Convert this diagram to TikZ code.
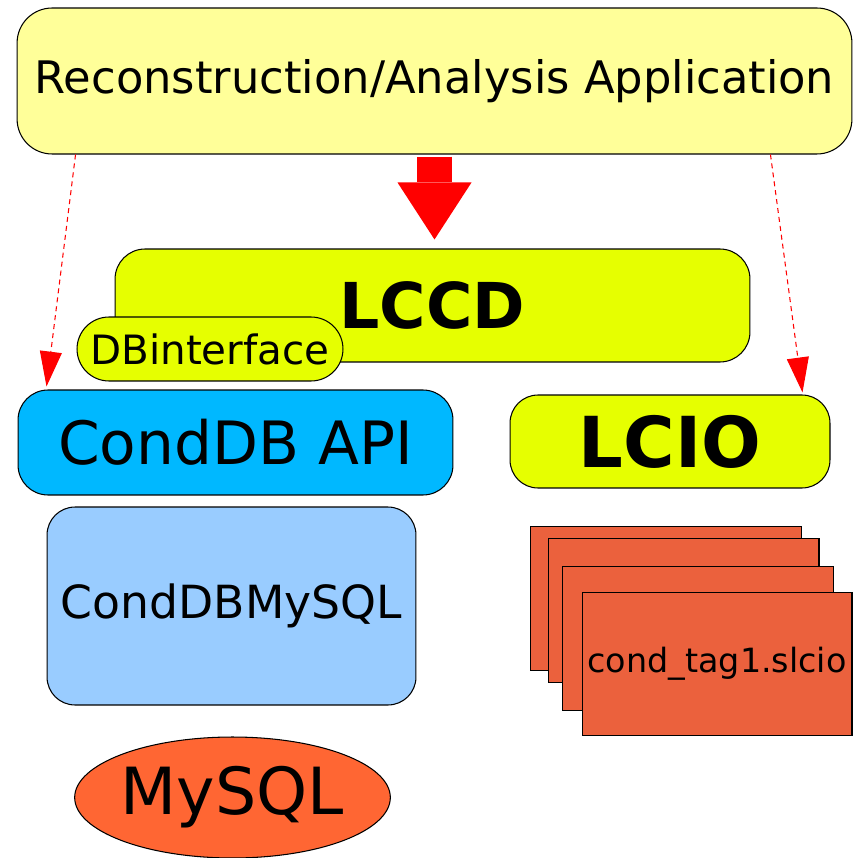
\documentclass[tikz,border=0pt]{standalone}
\usepackage{fontspec}
\setmainfont{DejaVu Sans}
\usetikzlibrary{arrows.meta,shapes.geometric}
\definecolor{appyellow}{HTML}{FFFF99}
\definecolor{lime}{HTML}{E6FF00}
\definecolor{apiblue}{HTML}{00B8FF}
\definecolor{sqlblue}{HTML}{99CCFF}
\definecolor{mysqlorange}{HTML}{FF6633}
\definecolor{sheetred}{HTML}{EB613D}
\newcommand{\fs}[1]{\fontsize{#1}{#1}\selectfont}

\begin{document}
\begin{tikzpicture}[x=0.02cm,y=-0.02cm,
	box/.style={draw=black, line width=0.6pt, rounded corners=0.6cm, inner sep=0pt},
	sheet/.style={draw=black, line width=0.6pt, fill=sheetred, minimum width=5.42cm, minimum height=2.87cm, inner sep=0pt},
	dasharrow/.style={red, line width=0.6pt, dash pattern=on 0.1cm off 0.08cm, -{Triangle[length=0.7cm,width=0.44cm]}}]
	\useasboundingbox (0,0) rectangle (854,858);
	% application on top
	\node[box, fill=appyellow, rounded corners=0.7cm, minimum width=16.7cm, minimum height=2.92cm] (app) at (434.5,81) {\fs{25.5}\raisebox{-0.08cm}{Reconstruction/Analysis Application}};
	% LCCD and its interface
	\node[box, fill=lime, minimum width=12.7cm, minimum height=2.26cm] (lccd) at (432.5,305.5) {\fs{36}\bfseries\raisebox{-0.12cm}{LCCD}};
	\node[box, fill=lime, rounded corners=0.64cm, minimum width=5.32cm, minimum height=1.28cm] (dbi) at (210,349) {\fs{23}DBinterface};
	% conditions database side
	\node[box, fill=apiblue, minimum width=8.7cm, minimum height=2.1cm] (conddb) at (235.5,442.5) {\fs{34}CondDB API};
	\node[box, fill=sqlblue, rounded corners=0.56cm, minimum width=7.38cm, minimum height=3.96cm] (condsql) at (231.5,606) {\fs{26}CondDBMySQL};
	\node[ellipse, draw=black, line width=0.6pt, fill=mysqlorange, inner sep=0pt, minimum width=6.3cm, minimum height=2.42cm] (mysql) at (232.5,797.5) {\fs{37}MySQL};
	% LCIO side
	\node[box, fill=lime, rounded corners=0.56cm, minimum width=6.4cm, minimum height=1.86cm] (lcio) at (670,441.5) {\fs{40}\bfseries LCIO};
	\node[sheet] (s1) at (666,598.5) {};
	\node[sheet] (s2) at (683.5,610.5) {};
	\node[sheet] (s3) at (698,638.5) {};
	\node[sheet, minimum width=5.4cm] (s4) at (717,664) {\fs{19}cond\_tag1.slcio};
	% arrows
	\draw[red, line width=0.7cm, -{Triangle[length=1.14cm,width=1.48cm,line width=0pt]}] ([yshift=-0.04cm]app.south) -- ([yshift=0.18cm]app.south |- lccd.north);
	\draw[dasharrow] ([xshift=1.18cm]app.south west) -- ([xshift=0.58cm,yshift=0.06cm]conddb.north west);
	\draw[dasharrow] ([xshift=-1.64cm]app.south east) -- ([xshift=-0.56cm,yshift=0.04cm]lcio.north east);
\end{tikzpicture}
\end{document}
